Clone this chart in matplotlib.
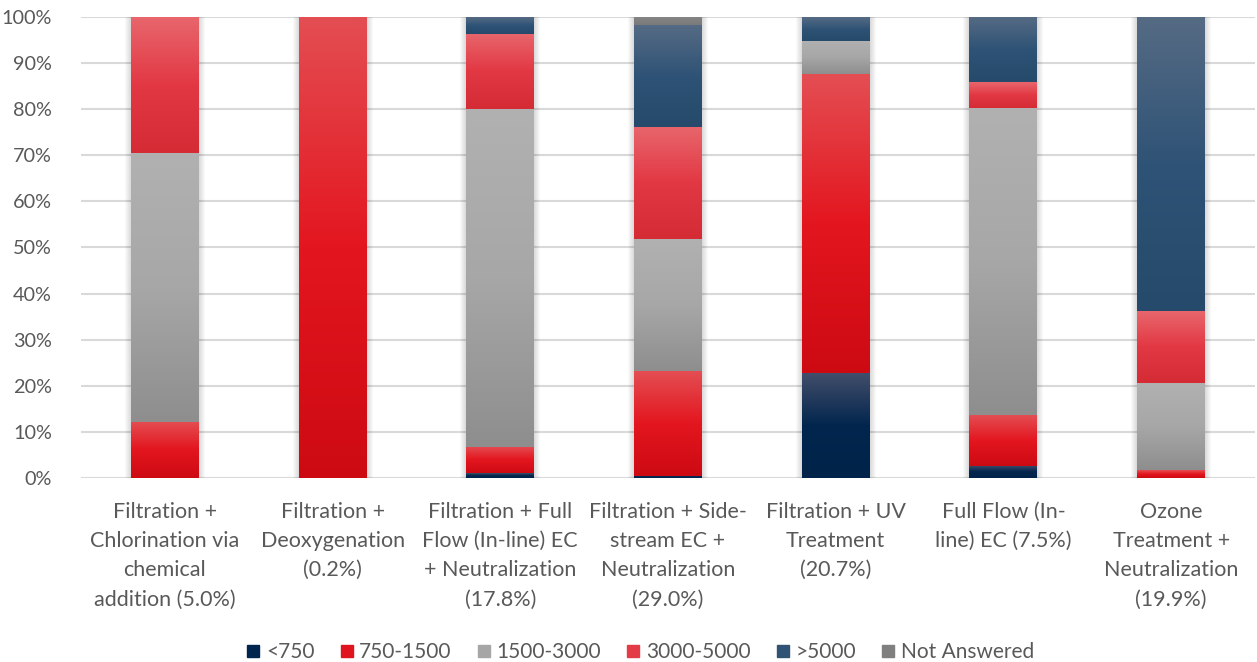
import numpy as np
import matplotlib
matplotlib.use("Agg")
import matplotlib.pyplot as plt
from matplotlib.colors import LinearSegmentedColormap
from matplotlib.patches import Rectangle
from matplotlib.lines import Line2D

# data (percent of each treatment group)
categories = ["Filtration +\nChlorination via\nchemical\naddition (5.0%)",
              "Filtration +\nDeoxygenation\n(0.2%)",
              "Filtration + Full\nFlow (In-line) EC\n+ Neutralization\n(17.8%)",
              "Filtration + Side-\nstream EC +\nNeutralization\n(29.0%)",
              "Filtration + UV\nTreatment\n(20.7%)",
              "Full Flow (In-\nline) EC (7.5%)",
              "Ozone\nTreatment +\nNeutralization\n(19.9%)"]
series_names = ["<750", "750-1500", "1500-3000", "3000-5000", ">5000", "Not Answered"]
lt750 = [0, 0, 1.0, 0.5, 22.8, 2.7, 0]
s750_1500 = [12.2, 100, 5.8, 22.7, 64.8, 11.0, 1.7]
s1500_3000 = [58.3, 0, 73.2, 28.6, 7.2, 66.6, 18.9]
s3000_5000 = [29.5, 0, 16.4, 24.3, 0, 5.6, 15.6]
gt5000 = [0, 0, 3.6, 22.2, 5.2, 14.1, 63.8]
not_answered = [0, 0, 0, 1.7, 0, 0, 0]
series = [lt750, s750_1500, s1500_3000, s3000_5000, gt5000, not_answered]

# colours: (top, middle, bottom) of each segment's gradient, plus legend swatch
grads = [("#434f6b", "#03264e", "#00234a"),
         ("#e44e53", "#e3161f", "#cd0a12"),
         ("#b1b1b1", "#a7a7a7", "#8e8e8e"),
         ("#e8666c", "#e23844", "#d42b35"),
         ("#566b84", "#2f5376", "#254a6b"),
         ("#858585", "#7f7f7f", "#7a7a7a")]
swatch = ["#00264f", "#e0141e", "#a6a6a6", "#e33c46", "#2f5275", "#7f7f7f"]
text_col = "#595959"

plt.rcParams['font.family'] = ['Lato', 'DejaVu Sans']

fig = plt.figure(figsize=(12.57, 6.62), dpi=100)
ax = fig.add_axes([81/1257, 1 - 478/662, 1174/1257, 461/662])

x = np.arange(len(categories))
width = 0.405

# soft shadow behind each full bar
px = 1.0 / 168
for xi in x:
    for k in range(1, 7):
        ax.add_patch(Rectangle((xi - width/2 - k*px, -0.3), width + 2*k*px, 100.3 + 0.2*k,
                               facecolor="black", alpha=0.025, lw=0, zorder=1))

bottom = np.zeros(len(categories))
for vals, (top, mid, bot), col in zip(series, grads, swatch):
    vals = np.array(vals, dtype=float)
    bars = ax.bar(x, vals, width, bottom=bottom, color=col, lw=0, zorder=2)
    cmap = LinearSegmentedColormap.from_list("g", [bot, mid, top])
    grad = np.linspace(0, 1, 256).reshape(-1, 1)
    for b in bars:
        if b.get_height() <= 0:
            continue
        x0, y0 = b.get_x(), b.get_y()
        im = ax.imshow(grad, cmap=cmap, origin="lower", aspect="auto",
                       extent=[x0, x0 + b.get_width(), y0, y0 + b.get_height()],
                       zorder=3, interpolation="bilinear")
        im.set_clip_path(b)
    bottom += vals

ax.set_xlim(-0.5, len(categories) - 0.5)
ax.set_ylim(0, 100)
ax.set_yticks(np.arange(0, 101, 10))
ax.set_yticklabels([f"{v}%" for v in range(0, 101, 10)])
ax.set_xticks(x)
ax.set_xticklabels(categories, linespacing=1.58)
ax.tick_params(axis="both", length=0, labelsize=15.5, colors=text_col)
ax.tick_params(axis="x", pad=17)
ax.tick_params(axis="y", pad=21)
for lbl in ax.get_yticklabels():
    lbl.set_fontsize(14.3)
ax.yaxis.grid(True, color="#d9d9d9", lw=1.5, zorder=0)
ax.set_axisbelow(True)
for s in ax.spines.values():
    s.set_visible(False)

handles = [Line2D([], [], marker="s", ls="", markersize=9, color=c) for c in swatch]
fig.legend(handles, series_names, loc="lower center", bbox_to_anchor=(0.508, -0.029),
           ncol=6, frameon=False, fontsize=15, labelcolor=text_col,
           handletextpad=0.1, columnspacing=1.05, handlelength=1.0)

fig.savefig("out.png", dpi=100)
